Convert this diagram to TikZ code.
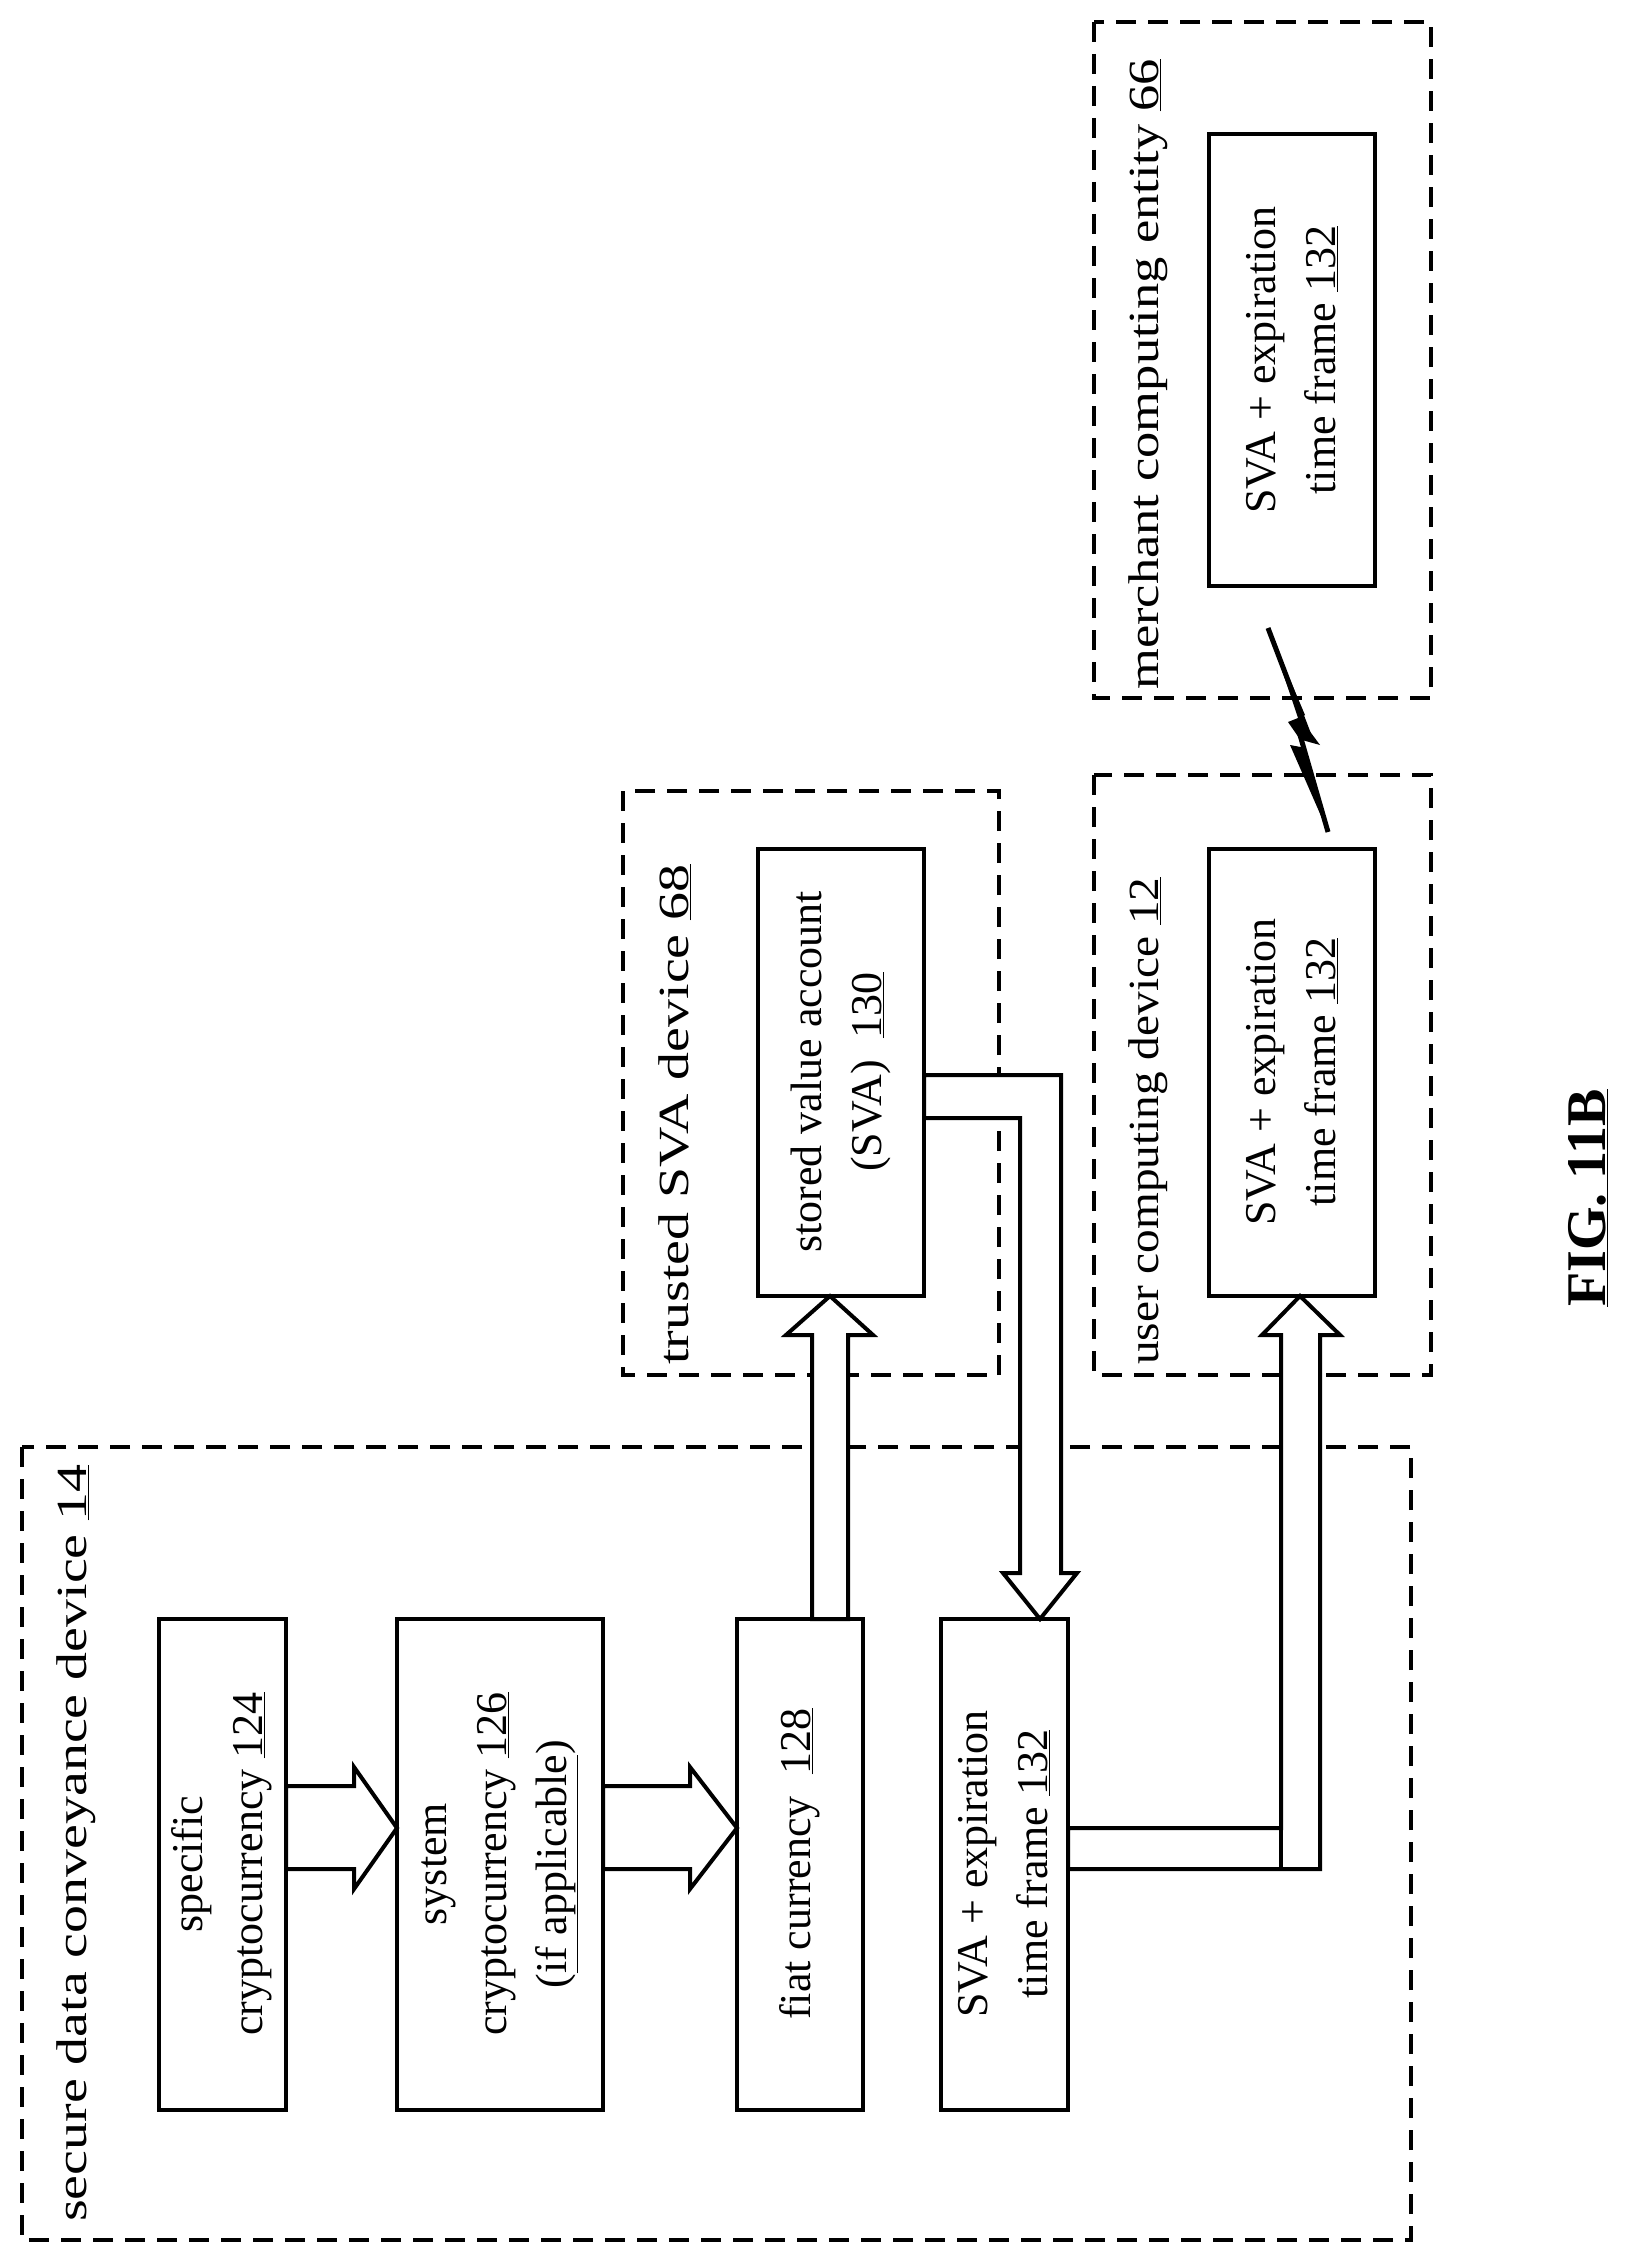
\documentclass[tikz,border=0pt]{standalone}
\usepackage{fontspec}
\setmainfont{Liberation Serif}
\newfontfamily\widea[FakeStretch=1.3]{Liberation Serif}
\newfontfamily\wideb[FakeStretch=1.1]{Liberation Serif}
\newfontfamily\widec[FakeStretch=1.22]{Liberation Serif}
\begin{document}
\begin{tikzpicture}[x=1pt,y=-1pt,
  grp/.style={draw,line width=4pt,dash pattern=on 20pt off 12pt},
  box/.style={draw,line width=4pt},
  harrow/.style={draw,line width=4pt,fill=white,line join=miter},
  txt/.style={rotate=90,align=center,font=\fontsize{44}{60}\selectfont},
  lbl/.style={rotate=90,anchor=south west,inner sep=0pt}]
\useasboundingbox (0,0) rectangle (1630,2258);
\fill[white] (0,0) rectangle (1630,2258);
% groups
\draw[grp] (22,1447) rectangle (1411,2240);
\draw[grp] (623,791) rectangle (999,1375);
\draw[grp] (1094,22) rectangle (1431,698);
\draw[grp] (1094,775) rectangle (1431,1375);
\node[lbl,font=\fontsize{43}{50}\widea] (gsec) at (96,2222) {secure data conveyance device \underline{14}};
\node[lbl,font=\fontsize{43}{50}\widea] (gtr) at (691,1365) {trusted SVA device \underline{68}};
\node[lbl,font=\fontsize{43}{50}\wideb] (gusr) at (1168,1365) {user computing device \underline{12}};
\node[lbl,font=\fontsize{43}{50}\widec] (gmer) at (1168,690) {merchant computing entity \underline{66}};
% boxes
\draw[box] (159,1619) rectangle (286,2110); \node[txt] (spec) at (222,1864) {specific\\cryptocurrency \underline{124}};
\draw[box] (397,1619) rectangle (603,2110); \node[txt] (sys) at (500,1864) {system\\cryptocurrency \underline{126}\\(\underline{if applicable})};
\draw[box] (737,1619) rectangle (863,2110); \node[txt] (fiat) at (800,1864) {fiat currency~~\underline{128}};
\draw[box] (941,1619) rectangle (1068,2110); \node[txt] (sva1) at (1004,1864) {SVA + expiration\\time frame \underline{132}};
\draw[box] (758,849) rectangle (924,1296); \node[txt] (stor) at (841,1072) {stored value account\\(SVA)~~\underline{130}};
\draw[box] (1209,849) rectangle (1375,1296); \node[txt] (sva2) at (1292,1072) {SVA + expiration\\time frame \underline{132}};
\draw[box] (1209,134) rectangle (1375,586); \node[txt] (sva3) at (1292,360) {SVA + expiration\\time frame \underline{132}};
% hollow arrows
\draw[harrow] (286,1786)--(354,1786)--(354,1767)--(397,1828)--(354,1889)--(354,1869)--(286,1869)--cycle;
\draw[harrow] (603,1786)--(690,1786)--(690,1767)--(737,1828)--(690,1889)--(690,1869)--(603,1869)--cycle;
\draw[harrow] (812,1619)--(812,1335)--(786,1335)--(830,1296)--(873,1335)--(848,1335)--(848,1619)--cycle;
\draw[harrow] (924,1075)--(1061,1075)--(1061,1573)--(1077,1573)--(1040,1619)--(1003,1573)--(1020,1573)--(1020,1118)--(924,1118)--cycle;
\draw[harrow] (1068,1828)--(1281,1828)--(1281,1335)--(1262,1335)--(1300,1296)--(1340,1335)--(1320,1335)--(1320,1869)--(1068,1869)--cycle;
\draw[line width=4pt] (1281,1828)--(1281,1869);
% lightning bolt
\coordinate (b1) at (1268,628);
\coordinate (b2) at (1328,832);
\fill (b1)--(1305,715)--(1300,718)--(1320,745)--(1302,740)--(b2)--(1290,745)--(1306,748)--(1288,722)--(1298,718)--cycle;
\draw[line width=5pt,line join=miter] (b1)--(1310,738)--(1300,735)--(b2);
% figure label
\node[rotate=90,font=\fontsize{56}{60}\selectfont\bfseries] (fig) at (1588,1198) {\underline{FIG. 11B}};
\end{tikzpicture}
\end{document}
